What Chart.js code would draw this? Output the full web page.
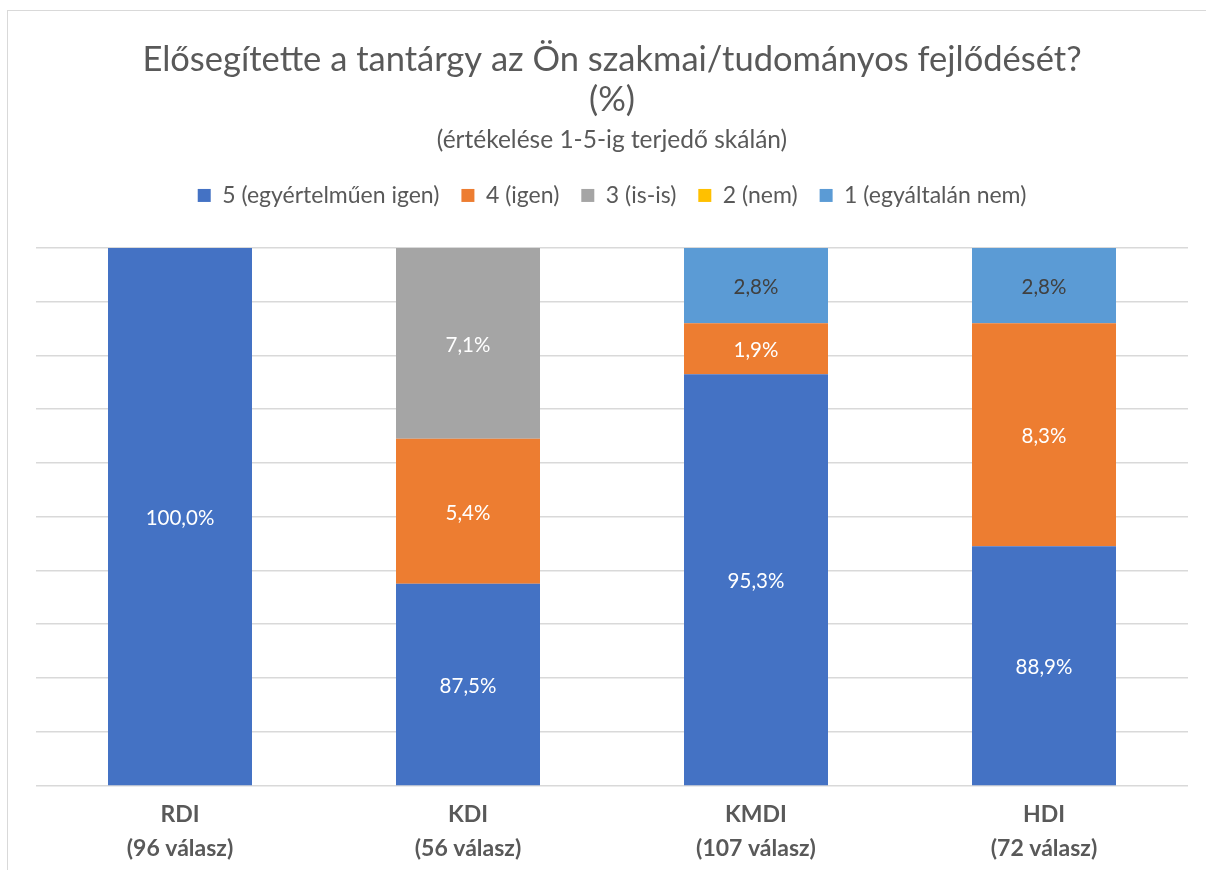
<!DOCTYPE html>
<html>
<head>
<meta charset="utf-8">
<script src="https://cdn.jsdelivr.net/npm/chart.js@4/dist/chart.umd.min.js"></script>
<style>
  html, body { margin: 0; padding: 0; background: #fff; overflow: hidden; }
  #frame { position: absolute; left: 7px; top: 10px; width: 1300px; height: 1000px; border-left: 1px solid #d9d9d9; border-top: 1px solid #d9d9d9; }
  #c { position: absolute; left: 0; top: 0; }
</style>
</head>
<body>
<div id="frame"></div>
<canvas id="c" width="1206" height="870"></canvas>
<script>
const categories = [["RDI", "(96 válasz)"], ["KDI", "(56 válasz)"], ["KMDI", "(107 válasz)"], ["HDI", "(72 válasz)"]];
const seriesNames = ["5 (egyértelműen igen)", "4 (igen)", "3 (is-is)", "2 (nem)", "1 (egyáltalán nem)"];
const s5 = [100.0, 87.5, 95.3, 88.9];
const s4 = [0, 5.4, 1.9, 8.3];
const s3 = [0, 7.1, 0, 0];
const s2 = [0, 0, 0, 0];
const s1 = [0, 0, 2.8, 2.8];
const titleLines = ["Elősegítette a tantárgy az Ön szakmai/tudományos fejlődését?", "(%)"];
const subtitleText = "(értékelése 1-5-ig terjedő skálán)";
const colors = ["#4472C4", "#ED7D31", "#A5A5A5", "#FFC000", "#5B9BD5"];
const labelColors = ["#ffffff", "#ffffff", "#ffffff", "#404040", "#404040"];
const FONT = "Lato, 'Open Sans', sans-serif";

const seriesData = [s5, s4, s3, s2, s1];

const legendGap = {
  id: 'legendGap',
  beforeLayout(chart) {
    const l = chart.legend;
    if (l && !l._patched) {
      const f = l.fit.bind(l);
      l.fit = function () { f(); this.height += 31; };
      l._patched = true;
    }
  }
};

const segLabels = {
  id: 'segLabels',
  afterDatasetsDraw(chart) {
    const ctx = chart.ctx;
    const area = chart.chartArea;
    ctx.save();
    ctx.font = "20.5px " + FONT;
    ctx.textAlign = 'center';
    ctx.textBaseline = 'middle';
    chart.data.datasets.forEach((ds, di) => {
      const meta = chart.getDatasetMeta(di);
      meta.data.forEach((el, i) => {
        const v = ds.data[i];
        if (!v) return;
        const top = Math.max(Math.min(el.y, el.base), area.top);
        const bot = Math.min(Math.max(el.y, el.base), area.bottom);
        if (bot - top < 10) return;
        ctx.fillStyle = labelColors[di];
        ctx.fillText(v.toFixed(1).replace('.', ',') + '%', el.x, (top + bot) / 2 + 2);
      });
    });
    ctx.restore();
  }
};

new Chart(document.getElementById('c'), {
  type: 'bar',
  data: {
    labels: categories,
    datasets: seriesNames.map((n, i) => ({
      label: n,
      data: seriesData[i],
      backgroundColor: colors[i],
      borderWidth: 0,
      barPercentage: 0.5,
      categoryPercentage: 1.0
    }))
  },
  options: {
    responsive: false,
    animation: false,
    layout: { padding: { left: 36, right: 18, top: 0, bottom: -8 } },
    plugins: {
      title: {
        display: true,
        text: titleLines,
        color: '#595959',
        font: { family: FONT, size: 34.5, weight: 'normal', lineHeight: 1.16 },
        padding: { top: 40, bottom: 0 }
      },
      subtitle: {
        display: true,
        text: subtitleText,
        color: '#595959',
        font: { family: FONT, size: 24.5, weight: 'normal', lineHeight: 1.18 },
        padding: { top: 6, bottom: 7 }
      },
      legend: {
        display: true,
        position: 'top',
        labels: {
          color: '#595959',
          font: { family: FONT, size: 23 },
          boxWidth: 13, boxHeight: 13,
          padding: 22
        }
      },
      tooltip: { enabled: false }
    },
    scales: {
      x: {
        stacked: true,
        grid: { display: false, drawTicks: false },
        border: { display: false },
        ticks: {
          color: '#595959',
          font: { family: FONT, size: 23, weight: 'bold', lineHeight: 1.45 },
          padding: 13,
          maxRotation: 0
        }
      },
      y: {
        stacked: true,
        min: 80, max: 100,
        ticks: { display: false, stepSize: 2 },
        grid: { color: '#d9d9d9', lineWidth: 1.5, drawTicks: false },
        border: { display: false }
      }
    }
  },
  plugins: [legendGap, segLabels]
});
</script>
</body>
</html>
